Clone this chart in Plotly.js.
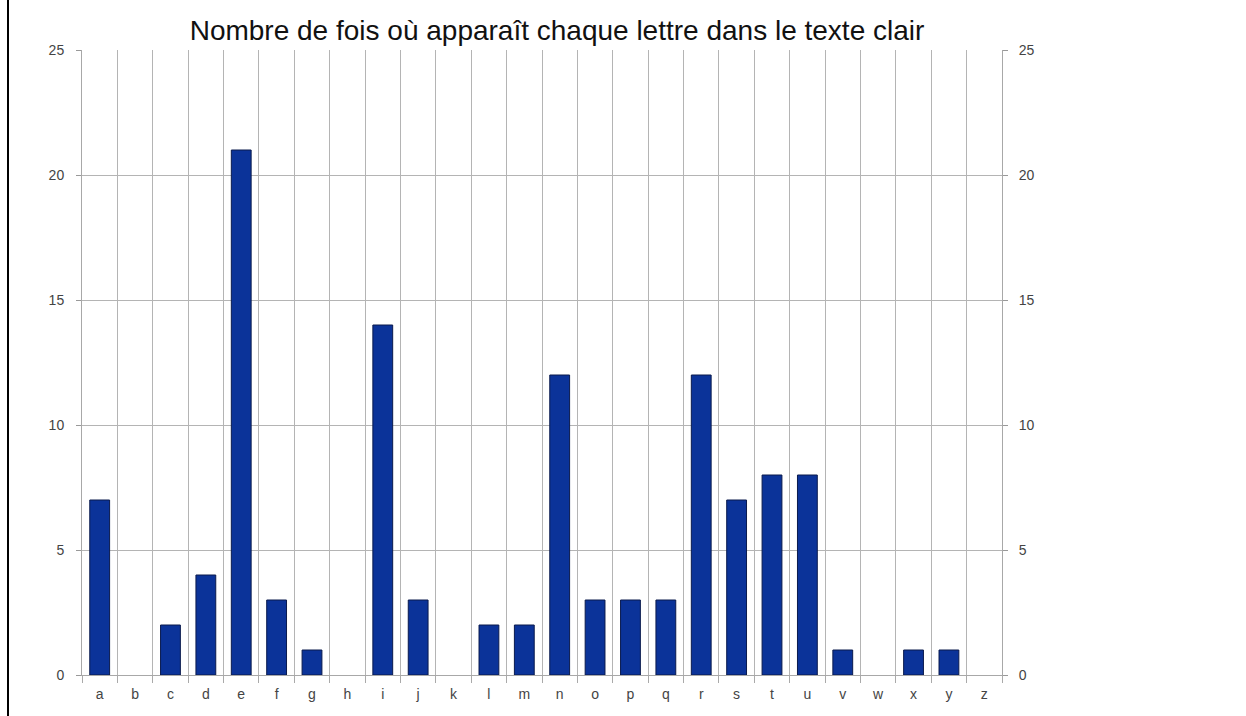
<!DOCTYPE html>
<html>
<head>
<meta charset="utf-8">
<script src="https://cdn.plot.ly/plotly-3.0.1.min.js"></script>
<style>
html,body{margin:0;padding:0;background:#fff;}
#chart{width:1246px;height:716px;}
</style>
</head>
<body>
<div id="chart"></div>
<script>
const letters = ["a","b","c","d","e","f","g","h","i","j","k","l","m","n","o","p","q","r","s","t","u","v","w","x","y","z"];
const counts = [7,0,2,4,21,3,1,0,14,3,0,2,2,12,3,3,3,12,7,8,8,1,0,1,1,0];
const yTicks = [0,5,10,15,20,25];
const titleText = "Nombre de fois où apparaît chaque lettre dans le texte clair";

const W = 1246, H = 716;
const mL = 82, mR = 244, mT = 50, mB = 41;
const pw = W - mL - mR;
const ph = H - mT - mB;

const traces = [
  {
    type: "bar",
    x: letters,
    y: counts,
    width: 0.56,
    marker: {
      color: "#0b3399",
      line: {color: "#0a1a4d", width: counts.map(v => v > 0 ? 1 : 0)}
    },
    hoverinfo: "x+y"
  },
  {
    type: "scatter",
    mode: "markers",
    x: letters,
    y: counts,
    yaxis: "y2",
    marker: {opacity: 0},
    hoverinfo: "skip",
    showlegend: false
  }
];

const axisFont = {family: "Liberation Sans, Arial, sans-serif", size: 14, color: "#444"};

const layout = {
  width: W, height: H,
  margin: {l: mL, r: mR, t: mT, b: mB, pad: 0},
  paper_bgcolor: "#fff",
  plot_bgcolor: "#fff",
  showlegend: false,
  title: {
    text: titleText,
    font: {family: "Liberation Sans, Arial, sans-serif", size: 28, color: "#111"},
    x: 557 / W, xanchor: "center",
    y: 1 - 30 / H, yanchor: "middle"
  },
  xaxis: {
    type: "category",
    range: [-0.5, letters.length - 0.5],
    tickson: "boundaries",
    ticks: "outside",
    ticklen: 7,
    tickcolor: "#aaa",
    showgrid: true,
    gridcolor: "#b4b4b4",
    gridwidth: 1,
    showline: true,
    linecolor: "#a8a8a8",
    linewidth: 1,
    tickfont: axisFont,
    ticklabelstandoff: 6,
    fixedrange: true,
    zeroline: false
  },
  yaxis: {
    range: [0, 25],
    tickvals: yTicks,
    ticks: "outside",
    ticklen: 5,
    tickcolor: "#999",
    showgrid: true,
    gridcolor: "#b4b4b4",
    gridwidth: 1,
    showline: true,
    linecolor: "#a8a8a8",
    mirror: true,
    zeroline: false,
    tickfont: axisFont,
    ticklabelstandoff: 9
  },
  yaxis2: {
    range: [0, 25],
    tickvals: yTicks,
    overlaying: "y",
    side: "right",
    ticks: "outside",
    ticklen: 5,
    tickcolor: "#999",
    showgrid: false,
    zeroline: false,
    showline: false,
    tickfont: axisFont,
    ticklabelstandoff: 8
  },
  shapes: [
    {
      type: "line",
      xref: "paper", yref: "paper",
      x0: (8 - mL) / pw, x1: (8 - mL) / pw,
      y0: -mB / ph - 0.01, y1: 1 + mT / ph + 0.01,
      line: {color: "#000", width: 2}
    }
  ],
  bargap: 0.44
};

Plotly.newPlot("chart", traces, layout, {displayModeBar: false, staticPlot: true});
</script>
</body>
</html>
